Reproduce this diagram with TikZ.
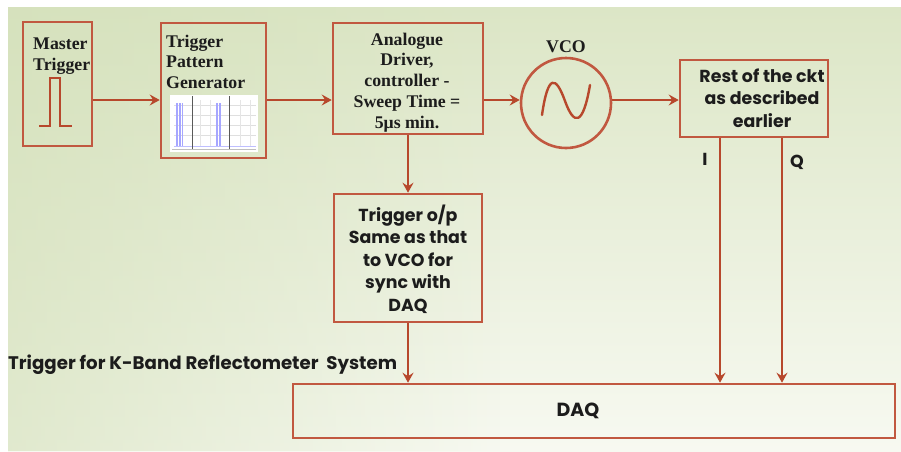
\documentclass[tikz,border=0pt]{standalone}
\usepackage{fontspec}
\setmainfont{Liberation Serif}
\newfontfamily\gothic{Poppins}
\usetikzlibrary{arrows.meta,fadings}
\definecolor{ln}{RGB}{183,72,44}
\definecolor{bx}{RGB}{193,88,64}
\definecolor{txt}{RGB}{28,28,28}
\definecolor{bgtop}{RGB}{220,230,198}
\definecolor{bgbot}{RGB}{247,249,241}
\definecolor{bgleft}{RGB}{210,223,183}
\begin{document}
\begin{tikzpicture}[x=1pt,y=-1pt,
  box/.style={draw=bx,line width=2.6pt,inner sep=0pt},
  conn/.style={draw=ln,line width=2.4pt,-{Stealth[length=10pt,width=11pt,inset=3.5pt]}},
  serif/.style={text=txt,font=\bfseries\fontsize{17.8}{20.7}\selectfont,inner sep=0pt},
  goth/.style={text=txt,font=\gothic\bfseries\fontsize{17.4}{22.4}\selectfont,inner sep=0pt}]
\useasboundingbox (0,0) rectangle (901,451);
% background
\shade[top color=bgtop,bottom color=bgbot] (8,7) rectangle (901,451);
\fill[bgleft,path fading=east,fill opacity=0.6] (8,7) rectangle (500,451);
% boxes
\node[box,minimum width=69,minimum height=124] (mt) at (57.5,84) {};
\node[box,minimum width=105,minimum height=135] (tpg) at (213.5,90.5) {};
\node[box,minimum width=150,minimum height=111] (ad) at (408,78.5) {};
\node[box,circle,minimum size=90] (vco) at (566,103) {};
\node[box,minimum width=148,minimum height=77] (rest) at (754,98.5) {};
\node[box,minimum width=148,minimum height=128] (trg) at (408,258) {};
\node[box,minimum width=602,minimum height=54] (daq) at (594,411) {};
% pulse
\draw[ln,line width=2.4pt] (39,126) -- (50,126) -- (50,78) -- (60,78) -- (60,126) -- (72,126);
% sine
\draw[ln,line width=2.4pt,line cap=round] (542,115) .. controls (548,73) and (556,76) .. (565,101) .. controls (574,126) and (583,126) .. (590,85);
% chart
\fill[white] (170,95) rectangle (258,152);
\foreach \yy in {105,115,125,135} \draw[gray!25,line width=0.3pt] (174,\yy) -- (256,\yy);
\foreach \xx in {200,210,240,250} \draw[gray!20,line width=0.3pt] (\xx,100) -- (\xx,146);
\foreach \xx in {176,177.5,179,180.5,182} \draw[blue!35,line width=0.5pt] (\xx,103) -- (\xx,146);
\foreach \xx in {216,217.5,219,220.5} \draw[blue!35,line width=0.5pt] (\xx,103) -- (\xx,146);
\draw[blue!25,line width=0.4pt] (174,146) -- (256,146);
\draw[gray!70!black,line width=0.6pt] (192,96) -- (192,150);
\draw[gray!70!black,line width=0.6pt] (229,96) -- (229,150);
\draw[gray!50,line width=0.4pt] (172,149) -- (256,149);
% texts (anchor base = baseline of last line)
\node[serif,align=left,anchor=base west] (tmt) at (33,70) {Master\\Trigger};
\node[serif,align=left,anchor=base west,font=\bfseries\fontsize{17.8}{20.5}\selectfont] (ttpg) at (166,88) {Trigger\\Pattern\\Generator};
\node[serif,align=center,anchor=base] (tad) at (407,128) {Analogue\\Driver,\\controller -\\Sweep Time =\\5μs min.};
\node[serif,anchor=base] (tvco) at (566,52) {VCO};
\node[goth,align=center,anchor=base] (trest) at (762,127) {Rest of the ckt\\as described\\earlier};
\node[goth,align=center,anchor=base] (ttrg) at (408,311) {Trigger o/p\\Same as that\\to VCO for\\sync with\\DAQ};
\node[goth,anchor=base] (ti) at (705,165) {I};
\node[goth,anchor=base] (tq) at (797,167) {Q};
\node[goth,anchor=base west,font=\gothic\bfseries\fontsize{18.2}{20}\selectfont] (tk) at (8,369) {Trigger for K-Band Reflectometer\ \ System};
\node[goth,font=\gothic\bfseries\fontsize{19}{22}\selectfont] (tdaq) at (578,411) {DAQ};
% connectors
\coordinate (lvl) at (0,100);
\coordinate (ix) at (720,0);
\coordinate (qx) at (782,0);
\draw[conn] (mt.east |- lvl) -- (tpg.west |- lvl);
\draw[conn] (tpg.east |- lvl) -- (ad.west |- lvl);
\draw[conn] (ad.east |- lvl) -- (vco.west |- lvl);
\draw[conn] (vco.east |- lvl) -- (rest.west |- lvl);
\draw[conn] (ad.south) -- (trg.north);
\draw[conn] (trg.south) -- (trg.south |- daq.north);
\draw[conn] (rest.south -| ix) -- (daq.north -| ix);
\draw[conn] (rest.south -| qx) -- (daq.north -| qx);
\end{tikzpicture}
\end{document}
